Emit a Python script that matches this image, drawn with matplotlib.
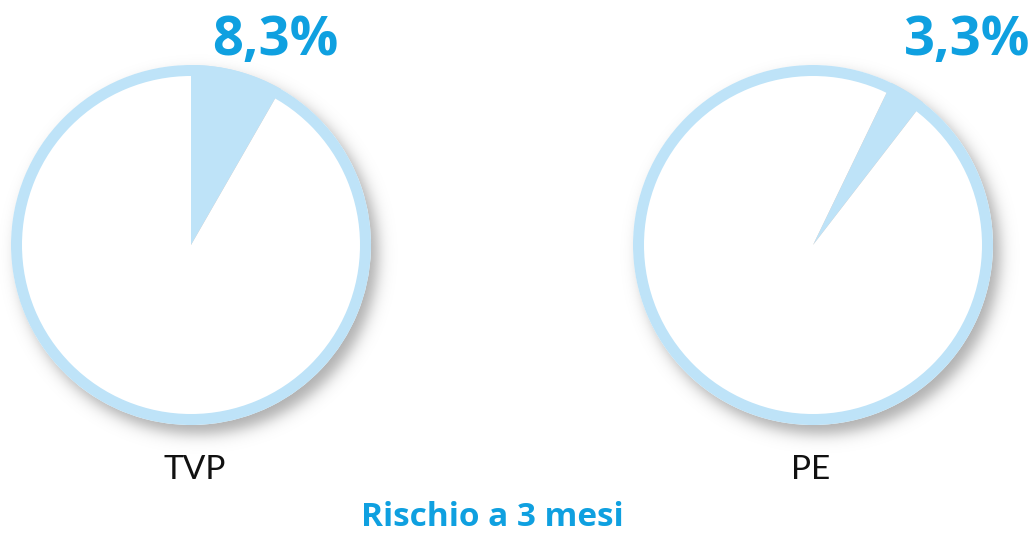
import numpy as np
import matplotlib
matplotlib.use("Agg")
import matplotlib.pyplot as plt
from matplotlib.patches import Wedge

# ---- data ----
labels = ["TVP", "PE"]
values = [8.3, 3.3]
value_texts = ["8,3%", "3,3%"]
title = "Rischio a 3 mesi"

# ---- style ----
W, H = 1033, 536
light = "#BEE3F8"
blue = "#0FA0E0"
centers = [(191, 245), (813, 245)]  # pixel coords (y from top)
R = 180
ring_w = 11
start_angles = [90, 90 - 25.8]
value_text_x = [275, 967]
label_x = [195, 811]

fig = plt.figure(figsize=(W / 100, H / 100), dpi=100)
ax = fig.add_axes([0, 0, 1, 1])

# shadow
yy, xx = np.mgrid[0:H, 0:W] + 0.5
alpha = np.zeros((H, W))
for (cx, cy) in centers:
    d = np.hypot(xx - (cx + 7), yy - (cy + 9))
    alpha = np.maximum(alpha, 0.5 * (1 - np.tanh((d - R) / 9.0)))
rgba = np.zeros((H, W, 4))
rgba[..., 3] = 0.32 * alpha
ax.imshow(rgba, extent=(0, W, 0, H), origin="upper", zorder=0, interpolation="bilinear")

for i, (cx, cy) in enumerate(centers):
    c = (cx, H - cy)
    ax.pie([values[i], 100 - values[i]], colors=[light, "white"], startangle=start_angles[i],
           counterclock=False, center=c, radius=R,
           wedgeprops=dict(linewidth=0), frame=True)
    ax.add_patch(Wedge(c, R, 0, 360, width=ring_w, facecolor=light, edgecolor="none", zorder=5))
    ax.text(value_text_x[i], H - 55, value_texts[i], ha="center", va="baseline",
            fontsize=39, fontweight="bold", color=blue, family=["Open Sans", "DejaVu Sans"])
    ax.text(label_x[i], H - 479, labels[i], ha="center", va="baseline",
            fontsize=24, color="#111111", family=["Lato", "DejaVu Sans"])

ax.text(492, 2, title, ha="center", va="bottom", fontsize=24, fontweight="bold",
        color=blue, family=["Open Sans", "DejaVu Sans"])

ax.set_xlim(0, W)
ax.set_ylim(0, H)
ax.set_aspect("auto")
ax.axis("off")
fig.savefig("out.png", dpi=100, facecolor="white")
